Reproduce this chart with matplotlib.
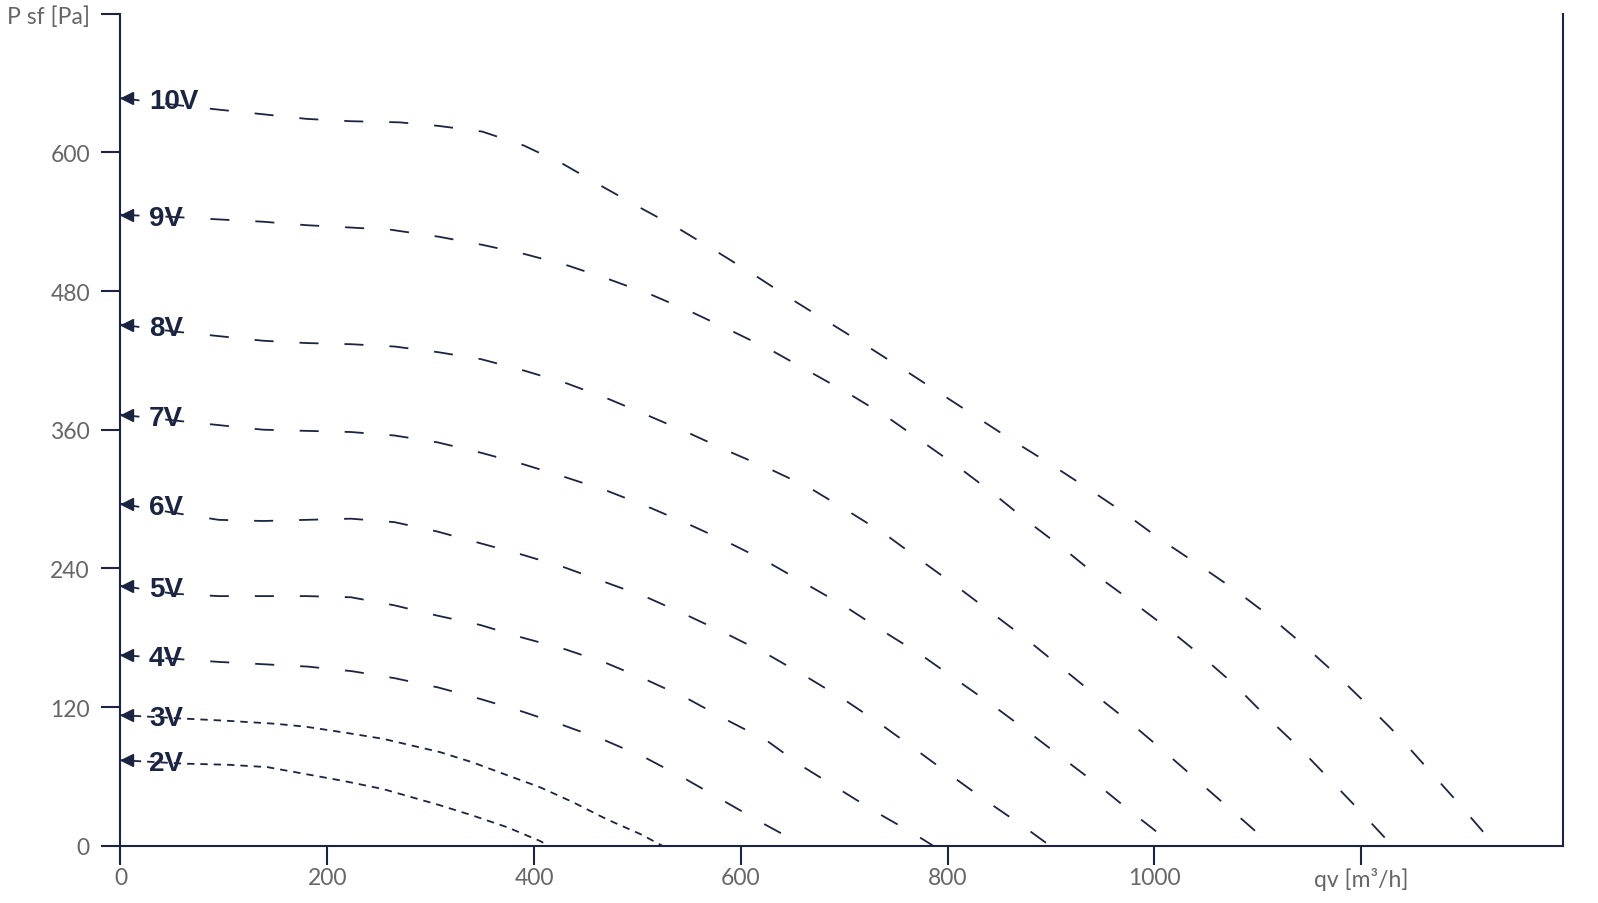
import matplotlib
matplotlib.use("Agg")
import matplotlib.pyplot as plt
import matplotlib.transforms as mtransforms

plt.rcParams['font.family'] = ['Lato', 'DejaVu Sans']
plt.rcParams['lines.scale_dashes'] = False

# fan curves, qv [m3/h] vs static pressure [Pa]
labels = ["10V", "9V", "8V", "7V", "6V", "5V", "4V", "3V", "2V"]

v10_x = [0, 54, 95, 138, 180, 222, 270, 307, 350, 390, 428, 465, 503, 540, 577, 613, 649, 685, 721,
         756, 792, 828, 864, 900, 936, 971, 1006, 1043, 1077, 1111, 1144, 1175, 1206, 1236, 1265,
         1293, 1320, 1329]
v10_y = [647, 641, 637, 633, 629, 627, 626, 623, 618, 606, 590, 571, 552, 534, 514, 494, 473, 453, 433,
         413, 392, 371, 350, 330, 309, 288, 265, 243, 222, 199, 174, 149, 122, 95, 66,
         38, 10, 0]

v9_x = [0, 54, 95, 138, 180, 222, 262, 308, 350, 391, 433, 473, 513, 552, 590, 629, 667, 703, 740,
        775, 810, 844, 877, 911, 944, 979, 1013, 1046, 1078, 1108, 1140, 1169, 1199, 1226, 1229]
v9_y = [546, 544, 542, 540, 537, 535, 533, 527, 520, 512, 502, 490, 477, 462, 446, 429, 410, 392, 372,
        350, 328, 305, 281, 258, 234, 211, 188, 164, 139, 112, 85, 58, 30, 4, 0]

v8_x = [0, 52, 95, 138, 180, 223, 265, 308, 349, 391, 432, 471, 511, 550, 589, 628, 666, 703, 739,
        774, 808, 842, 876, 909, 942, 976, 1009, 1041, 1073, 1105, 1112]
v8_y = [451, 445, 441, 437, 435, 434, 432, 427, 421, 411, 400, 387, 372, 357, 341, 326, 310, 290, 270,
        247, 225, 202, 179, 155, 131, 107, 82, 57, 32, 7, 0]

v7_x = [0, 52, 95, 138, 180, 223, 265, 307, 349, 390, 430, 471, 511, 550, 589, 627, 664, 701, 737,
        773, 808, 843, 876, 911, 945, 978, 1011, 1017]
v7_y = [373, 368, 364, 360, 359, 358, 355, 349, 340, 330, 319, 307, 293, 278, 262, 245, 226, 207, 186,
        166, 144, 122, 100, 76, 53, 29, 6, 0]

v6_x = [0, 52, 95, 138, 180, 223, 265, 306, 347, 388, 429, 469, 509, 549, 587, 625, 662, 699, 734,
        768, 803, 837, 873, 899]
v6_y = [296, 288, 282, 281, 282, 283, 280, 272, 262, 252, 241, 228, 215, 199, 183, 166, 147, 127, 106,
        84, 61, 39, 17, 0]

v5_x = [0, 52, 95, 138, 180, 223, 265, 307, 348, 389, 430, 470, 510, 549, 586, 625, 659, 695, 731,
        768, 786]
v5_y = [225, 218, 216, 216, 216, 215, 208, 199, 191, 180, 170, 158, 143, 127, 109, 91, 69, 49, 29,
        10, 0]

v4_x = [0, 96, 139, 181, 224, 265, 307, 348, 389, 429, 469, 508, 546, 583, 620, 655, 661]
v4_y = [165, 159, 157, 155, 151, 145, 137, 127, 116, 104, 91, 76, 58, 39, 20, 3, 0]

v3_x = [0, 61, 105, 150, 179, 216, 254, 309, 341, 374, 406, 438, 470, 503, 524]
v3_y = [113, 110, 108, 105.5, 103, 98, 92.5, 81, 72, 61, 50.5, 37.5, 23, 10, 0]

v2_x = [0, 61, 105, 142, 179, 216, 254, 309, 341, 374, 406, 414]
v2_y = [74, 71, 70, 68, 62, 56, 49, 35, 26, 16, 4, 0]

series_x = [v10_x, v9_x, v8_x, v7_x, v6_x, v5_x, v4_x, v3_x, v2_x]
series_y = [v10_y, v9_y, v8_y, v7_y, v6_y, v5_y, v4_y, v3_y, v2_y]

x_ticks = [0, 200, 400, 600, 800, 1000, 1200]
x_ticklabels = ["0", "200", "400", "600", "800", "1000", "qv [m\u00b3/h]"]
y_ticks = [0, 120, 240, 360, 480, 600, 720]
y_ticklabels = ["0", "120", "240", "360", "480", "600", "P sf [Pa]"]

navy = "#1b2440"
grey = "#666666"

fig = plt.figure(figsize=(15.98, 9.04), dpi=100)
ax = fig.add_axes([0.0754, 0.0634, 0.9779 - 0.0754, 0.9837 - 0.0634])

# arrow marker sits a few pixels right of the axis line
marker_tr = mtransforms.offset_copy(ax.transData, fig=fig, x=7, y=0, units='dots')

for name, xs, ys in zip(labels, series_x, series_y):
    if name in ("3V", "2V"):
        dashes = (5.3, 4.3)
    else:
        dashes = (13.7, 18.7)
    ax.plot(xs, ys, color=navy, lw=1.3, dashes=dashes, clip_on=False)
    ax.plot(xs[0], ys[0], marker='<', ms=9, color=navy, transform=marker_tr, clip_on=False)
    ax.annotate(name, (xs[0], ys[0]), xytext=(20.5, -7.4), textcoords='offset points',
                ha='left', va='baseline', fontsize=20, fontweight='bold', color=navy,
                family=['Liberation Sans', 'DejaVu Sans'])

ax.set_xlim(0, 1395)
ax.set_ylim(0, 720)
ax.set_xticks(x_ticks)
ax.set_xticklabels(x_ticklabels)
ax.set_yticks(y_ticks)
ax.set_yticklabels(y_ticklabels)

ax.spines['top'].set_visible(False)
for side in ['left', 'bottom', 'right']:
    ax.spines[side].set_color(navy)
    ax.spines[side].set_linewidth(1.5)

ax.tick_params(axis='x', length=13.7, width=1.5, color=navy, labelcolor=grey, labelsize=16.5, pad=1.5)
ax.tick_params(axis='y', length=13.5, width=1.5, color=navy, labelcolor=grey, labelsize=16.5, pad=8.5)
ax.tick_params(right=False)

fig.savefig("out.png", dpi=100)
